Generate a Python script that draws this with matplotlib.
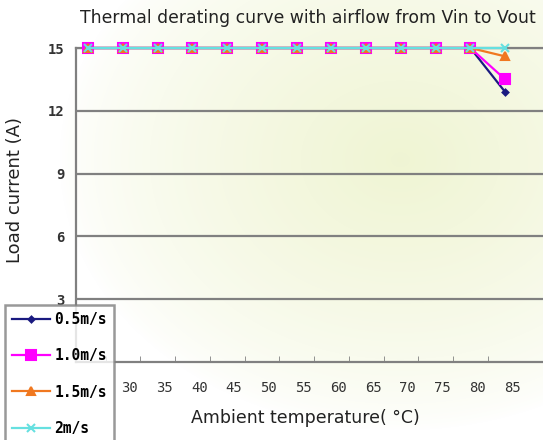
import numpy as np
import matplotlib
matplotlib.use("Agg")
import matplotlib.pyplot as plt

# ---- data ----
temps = [25, 30, 35, 40, 45, 50, 55, 60, 65, 70, 75, 80, 85]
tick_labels = ["30", "35", "40", "45", "50", "55", "60", "65", "70", "75", "80", "85"]
s_05 = [15, 15, 15, 15, 15, 15, 15, 15, 15, 15, 15, 15, 12.9]
s_10 = [15, 15, 15, 15, 15, 15, 15, 15, 15, 15, 15, 15, 13.5]
s_15 = [15, 15, 15, 15, 15, 15, 15, 15, 15, 15, 15, 15, 14.6]
s_20 = [15, 15, 15, 15, 15, 15, 15, 15, 15, 15, 15, 15, 15]
y_ticks = [3, 6, 9, 12, 15]

W, H = 543, 440
fig = plt.figure(figsize=(W / 100, H / 100), dpi=100)

# ---- background gradient (pale yellow-green to white) ----
bg = fig.add_axes([0, 0, 1, 1], zorder=-10)
yy, xx = np.mgrid[0:H, 0:W]
d = np.sqrt(((xx - 400) / 340.0) ** 2 + ((yy - 160) / 270.0) ** 2)
t = np.clip(1 - d, 0, 1) ** 0.7
c0 = np.array([1.0, 1.0, 1.0])
c1 = np.array([0.94, 0.96, 0.83])
img = c0[None, None, :] * (1 - t[..., None]) + c1[None, None, :] * t[..., None]
bg.imshow(img, aspect="auto", extent=[0, 1, 0, 1], origin="upper")
bg.axis("off")

ax = fig.add_axes([76 / W, (H - 362) / H, 1 - 76 / W, (362 - 48) / H])
ax.patch.set_alpha(0)

x = np.arange(len(temps))
series = [
    (s_05, "0.5m/s", "#1a1a80", "D", 3),
    (s_10, "1.0m/s", "#ff00ff", "s", 7),
    (s_15, "1.5m/s", "#f07820", "^", 6),
    (s_20, "2m/s", "#66e0e0", "x", 6),
]
handles = []
for vals, lab, col, mk, ms in series:
    h, = ax.plot(x, vals, color=col, lw=1.6, marker=mk, markersize=ms,
                 markeredgecolor=col, markeredgewidth=1.5, label=lab, clip_on=False, zorder=3)
    handles.append(h)

ax.set_xlim(-0.35, 13.09)
ax.set_ylim(0, 15)
ax.set_yticks(y_ticks)
ax.set_yticklabels([str(v) for v in y_ticks], fontsize=10, family="DejaVu Sans Mono",
                   fontweight="bold", color="#333333")
ax.yaxis.grid(True, color="#808080", lw=1.6)
ax.set_xticks(np.arange(1, 13) + 0.2)
ax.set_xticklabels(tick_labels, fontsize=10, family="DejaVu Sans Mono", color="#333333")
ax.set_xticks(np.arange(0, 12) + 0.5, minor=True)
ax.tick_params(axis="x", which="major", length=0, pad=14)
ax.tick_params(axis="x", which="minor", length=4, direction="in", color="#808080")
ax.tick_params(axis="y", length=0, pad=8)
for s in ["left", "bottom", "top"]:
    ax.spines[s].set_color("#808080")
    ax.spines[s].set_linewidth(1.6)
ax.spines["right"].set_visible(False)

fig.text(305 / W, 1 - 418 / H, "Ambient temperature( \u00b0C)", fontsize=12.5,
         color="#222222", ha="center", va="center")
fig.text(15 / W, 1 - 190 / H, "Load current (A)", fontsize=13, color="#222222",
         ha="center", va="center", rotation=90)
fig.text(80 / W, 1 - 18 / H, "Thermal derating curve with airflow from Vin to Vout",
         fontsize=12.4, color="#222222", va="center", ha="left")

leg = fig.legend(handles=handles, loc="upper left", bbox_to_anchor=(5 / W, 1 - 305 / H),
                 frameon=True, fancybox=False, borderpad=0.5, labelspacing=1.45,
                 handlelength=2.6, handletextpad=0.3, borderaxespad=0,
                 prop={"family": "DejaVu Sans Mono", "weight": "bold", "size": 10.5})
leg.get_frame().set_edgecolor("#808080")
leg.get_frame().set_linewidth(1.8)
leg.get_frame().set_facecolor("white")
leg.set_zorder(10)

fig.savefig("out.png", dpi=100)
